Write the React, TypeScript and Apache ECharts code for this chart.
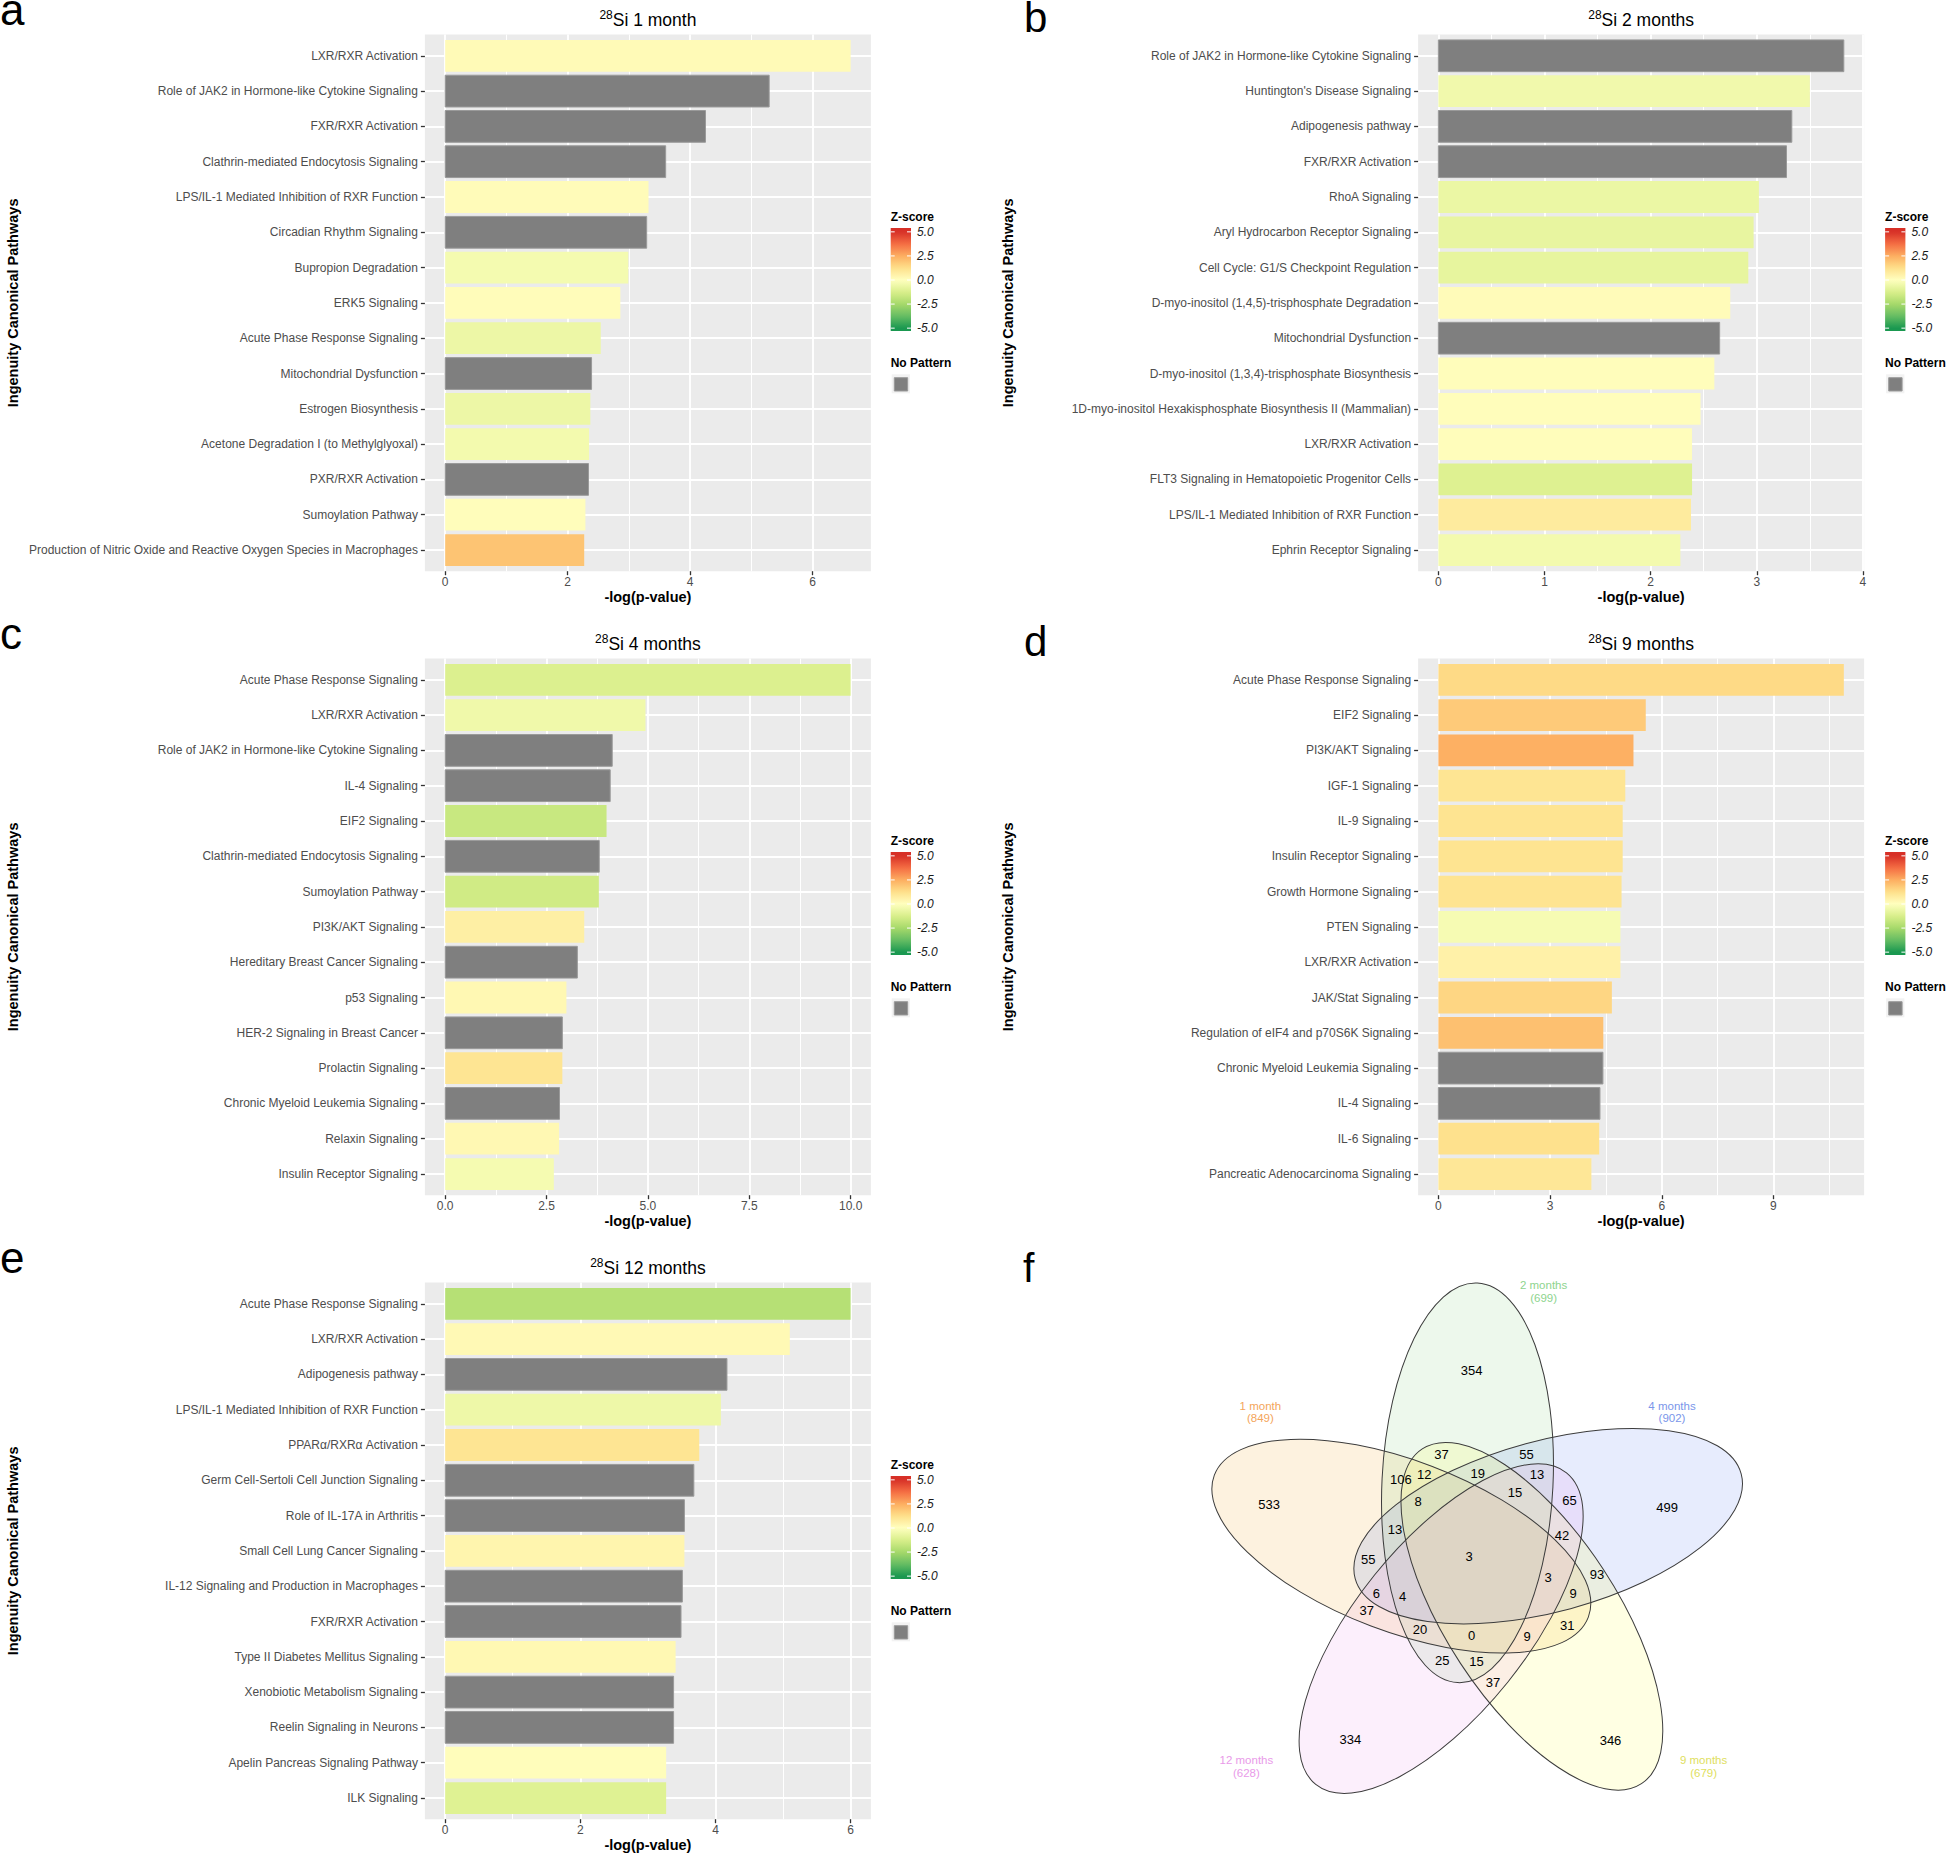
import React, { useEffect, useRef } from 'react';
import * as echarts from 'echarts';

const FONT = "'Liberation Sans', Arial, Helvetica, sans-serif";

// ---------------- DATA ----------------
// a: 28Si 1 month
const namesA = [
  'LXR/RXR Activation',
  'Role of JAK2 in Hormone-like Cytokine Signaling',
  'FXR/RXR Activation',
  'Clathrin-mediated Endocytosis Signaling',
  'LPS/IL-1 Mediated Inhibition of RXR Function',
  'Circadian Rhythm Signaling',
  'Bupropion Degradation',
  'ERK5 Signaling',
  'Acute Phase Response Signaling',
  'Mitochondrial Dysfunction',
  'Estrogen Biosynthesis',
  'Acetone Degradation I (to Methylglyoxal)',
  'PXR/RXR Activation',
  'Sumoylation Pathway',
  'Production of Nitric Oxide and Reactive Oxygen Species in Macrophages',
];
const valuesA = [6.62, 5.29, 4.25, 3.6, 3.32, 3.29, 2.99, 2.86, 2.54, 2.39, 2.37, 2.35, 2.34, 2.29, 2.27];
const zA = [0.2, null, null, null, 0.15, null, -0.35, 0.12, -0.6, null, -0.6, -0.4, null, 0.1, 1.95];
const ticksA = [0, 2, 4, 6];
const tickLabelsA = ['0', '2', '4', '6'];
const minorA = [1, 3, 5];

// b: 28Si 2 months
const namesB = [
  'Role of JAK2 in Hormone-like Cytokine Signaling',
  "Huntington's Disease Signaling",
  'Adipogenesis pathway',
  'FXR/RXR Activation',
  'RhoA Signaling',
  'Aryl Hydrocarbon Receptor Signaling',
  'Cell Cycle: G1/S Checkpoint Regulation',
  'D-myo-inositol (1,4,5)-trisphosphate Degradation',
  'Mitochondrial Dysfunction',
  'D-myo-inositol (1,3,4)-trisphosphate Biosynthesis',
  '1D-myo-inositol Hexakisphosphate Biosynthesis II (Mammalian)',
  'LXR/RXR Activation',
  'FLT3 Signaling in Hematopoietic Progenitor Cells',
  'LPS/IL-1 Mediated Inhibition of RXR Function',
  'Ephrin Receptor Signaling',
];
const valuesB = [3.82, 3.5, 3.33, 3.28, 3.02, 2.97, 2.92, 2.75, 2.65, 2.6, 2.47, 2.39, 2.39, 2.38, 2.28];
const zB = [null, -0.45, null, null, -0.65, -0.75, -0.8, 0.15, null, 0.1, 0.1, 0.1, -1.1, 0.8, -0.4];
const ticksB = [0, 1, 2, 3, 4];
const tickLabelsB = ['0', '1', '2', '3', '4'];
const minorB = [0.5, 1.5, 2.5, 3.5];

// c: 28Si 4 months
const namesC = [
  'Acute Phase Response Signaling',
  'LXR/RXR Activation',
  'Role of JAK2 in Hormone-like Cytokine Signaling',
  'IL-4 Signaling',
  'EIF2 Signaling',
  'Clathrin-mediated Endocytosis Signaling',
  'Sumoylation Pathway',
  'PI3K/AKT Signaling',
  'Hereditary Breast Cancer Signaling',
  'p53 Signaling',
  'HER-2 Signaling in Breast Cancer',
  'Prolactin Signaling',
  'Chronic Myeloid Leukemia Signaling',
  'Relaxin Signaling',
  'Insulin Receptor Signaling',
];
const valuesC = [10.0, 4.94, 4.12, 4.07, 3.98, 3.8, 3.79, 3.43, 3.26, 2.99, 2.89, 2.89, 2.82, 2.81, 2.68];
const zC = [-1.15, -0.5, null, null, -1.67, null, -1.47, 0.65, null, 0.28, null, 1.05, null, 0.28, -0.33];
const ticksC = [0, 2.5, 5, 7.5, 10];
const tickLabelsC = ['0.0', '2.5', '5.0', '7.5', '10.0'];
const minorC = [1.25, 3.75, 6.25, 8.75];

// d: 28Si 9 months
const namesD = [
  'Acute Phase Response Signaling',
  'EIF2 Signaling',
  'PI3K/AKT Signaling',
  'IGF-1 Signaling',
  'IL-9 Signaling',
  'Insulin Receptor Signaling',
  'Growth Hormone Signaling',
  'PTEN Signaling',
  'LXR/RXR Activation',
  'JAK/Stat Signaling',
  'Regulation of eIF4 and p70S6K Signaling',
  'Chronic Myeloid Leukemia Signaling',
  'IL-4 Signaling',
  'IL-6 Signaling',
  'Pancreatic Adenocarcinoma Signaling',
];
const valuesD = [10.89, 5.57, 5.24, 5.02, 4.95, 4.95, 4.92, 4.89, 4.89, 4.66, 4.43, 4.42, 4.34, 4.32, 4.11];
const zD = [1.4, 1.8, 2.45, 1.05, 1.1, 1.1, 1.1, -0.3, 0.55, 1.5, 2.05, null, null, 1.2, 0.95];
const ticksD = [0, 3, 6, 9];
const tickLabelsD = ['0', '3', '6', '9'];
const minorD = [1.5, 4.5, 7.5, 10.5];

// e: 28Si 12 months
const namesE = [
  'Acute Phase Response Signaling',
  'LXR/RXR Activation',
  'Adipogenesis pathway',
  'LPS/IL-1 Mediated Inhibition of RXR Function',
  'PPARα/RXRα Activation',
  'Germ Cell-Sertoli Cell Junction Signaling',
  'Role of IL-17A in Arthritis',
  'Small Cell Lung Cancer Signaling',
  'IL-12 Signaling and Production in Macrophages',
  'FXR/RXR Activation',
  'Type II Diabetes Mellitus Signaling',
  'Xenobiotic Metabolism Signaling',
  'Reelin Signaling in Neurons',
  'Apelin Pancreas Signaling Pathway',
  'ILK Signaling',
];
const valuesE = [6.0, 5.1, 4.17, 4.08, 3.76, 3.68, 3.54, 3.54, 3.51, 3.49, 3.41, 3.38, 3.38, 3.27, 3.27];
const zE = [-2.1, 0.25, null, -0.55, 1.05, null, null, 0.4, null, null, 0.3, null, null, 0.1, -1.05];
const ticksE = [0, 2, 4, 6];
const tickLabelsE = ['0', '2', '4', '6'];
const minorE = [1, 3, 5];

const legendBreaks = [5, 2.5, 0, -2.5, -5];
const legendBreakLabels = ['5.0', '2.5', '0.0', '-2.5', '-5.0'];

// f: Venn diagram
const vennSets = ['1 month', '2 months', '4 months', '9 months', '12 months'];
const vennSetSizes = [849, 699, 902, 679, 628];
const vennCounts = [533, 354, 499, 346, 334, 37, 55, 106, 12, 19, 13, 15, 8, 65, 13, 42, 55, 3, 93, 3, 6, 4, 9, 37, 20, 0, 9, 31, 25, 15, 37];

// ---------------- LAYOUT / STYLE ----------------
const COL_LEFT = [424.9, 1418.1];
const PANEL_W = 446;
const ROW_TOP = [34.6, 658.6, 1282.6];
const PANEL_H = 536.6;
const LEGEND_X = [890.7, 1885.1];
const YTITLE_X = [12.6, 1007.5];
const LETTER_X = [0, 1024];
const LETTER_SIZE = [44, 42];
const LETTER_MID_Y = [9.6, 17];

const vennCountPos: [number, number][] = [
  [1269.2, 1504.3], [1471.6, 1370], [1667.2, 1507], [1610.5, 1740.7], [1350.3, 1739.3],
  [1441.4, 1454.3], [1526.4, 1454.3], [1400.8, 1479.3], [1424.2, 1474.3], [1477.7, 1473.3],
  [1537, 1474.3], [1514.9, 1492.3], [1418, 1501], [1569.6, 1500], [1395, 1529.3],
  [1562, 1535.3], [1368.3, 1559], [1469, 1556.7], [1597.1, 1574], [1548.2, 1577.2],
  [1376.3, 1593.3], [1402.7, 1596], [1573, 1593.3], [1366.8, 1610.7], [1420, 1629],
  [1471.6, 1635], [1527.1, 1636.7], [1567.3, 1625.7], [1442.2, 1660.7], [1476.6, 1661.7],
  [1493, 1682.3],
];
const vennLabelPos: [number, number][] = [
  [1260.4, 1412], [1543.6, 1291.5], [1672, 1412], [1703.6, 1766.3], [1246.4, 1766.3],
];
const vennFill = ['#F2A82A', '#87D080', '#5F80F2', '#FFFF45', '#EB94EB'];
const vennLabelColor = ['#F4A55A', '#8ED48E', '#7A96EA', '#E0E060', '#E99AE9'];
const vennStep = [-1, 0, 1, 2, 3];
const VC = [1478, 1560];
const VG = [1467.5, 1482.8];
const VA = 200;
const VB = 85.5;
const VANG = -87.2;

const PAL = ['#1A9850', '#66BD63', '#A6D96A', '#D9EF8B', '#FFFFBF', '#FEE08B', '#FDAE61', '#F46D43', '#D73027'];
const GRAY = '#7F7F7F';

function hex2rgb(h: string): number[] {
  return [parseInt(h.slice(1, 3), 16), parseInt(h.slice(3, 5), 16), parseInt(h.slice(5, 7), 16)];
}
function zColor(z: number | null): string {
  if (z === null || z === undefined) return GRAY;
  const zz = Math.max(-5, Math.min(5, z));
  const t = (zz + 5) / 1.25;
  const i = Math.min(7, Math.floor(t));
  const f = t - i;
  const a = hex2rgb(PAL[i]);
  const b = hex2rgb(PAL[i + 1]);
  const c = a.map((v, k) => Math.round(v + (b[k] - v) * f));
  return `rgb(${c[0]},${c[1]},${c[2]})`;
}

const PANELS = [
  { letter: 'a', title: 'Si 1 month', names: namesA, values: valuesA, z: zA, ticks: ticksA, tickLabels: tickLabelsA, minor: minorA, col: 0, row: 0 },
  { letter: 'b', title: 'Si 2 months', names: namesB, values: valuesB, z: zB, ticks: ticksB, tickLabels: tickLabelsB, minor: minorB, col: 1, row: 0 },
  { letter: 'c', title: 'Si 4 months', names: namesC, values: valuesC, z: zC, ticks: ticksC, tickLabels: tickLabelsC, minor: minorC, col: 0, row: 1 },
  { letter: 'd', title: 'Si 9 months', names: namesD, values: valuesD, z: zD, ticks: ticksD, tickLabels: tickLabelsD, minor: minorD, col: 1, row: 1 },
  { letter: 'e', title: 'Si 12 months', names: namesE, values: valuesE, z: zE, ticks: ticksE, tickLabels: tickLabelsE, minor: minorE, col: 0, row: 2 },
];

function buildOption() {
  const grids: any[] = [];
  const xAxes: any[] = [];
  const yAxes: any[] = [];
  const series: any[] = [];
  const elements: any[] = [];

  PANELS.forEach((p, i) => {
    const M = Math.max(...p.values);
    const left = COL_LEFT[p.col];
    const top = ROW_TOP[p.row];
    const oy = top - ROW_TOP[0];
    const positions = p.names.map((_, k) => k + 1);
    grids.push({
      left, top, width: PANEL_W, height: PANEL_H,
      show: true, backgroundColor: '#EBEBEB', borderWidth: 0,
      containLabel: false, outerBoundsMode: 'none',
    });
    xAxes.push({
      gridIndex: i, type: 'value', min: -0.05 * M, max: 1.05 * M, position: 'bottom',
      axisLine: { show: false, onZero: false },
      axisTick: { show: true, length: 4, customValues: p.ticks, lineStyle: { color: '#333333', width: 1.3 } },
      axisLabel: {
        customValues: p.ticks, margin: 5, fontSize: 12, color: '#4D4D4D', fontFamily: FONT,
        formatter: (v: number) => p.tickLabels[p.ticks.findIndex((t) => Math.abs(t - v) < 1e-6)] ?? '',
      },
      splitLine: { show: true, lineStyle: { color: '#FFFFFF', width: 1.9 } },
    });
    xAxes.push({
      gridIndex: i, type: 'value', min: -0.05 * M, max: 1.05 * M, position: 'top',
      axisLine: { show: false, onZero: false },
      axisTick: { show: false, customValues: p.minor },
      axisLabel: { show: false, customValues: p.minor },
      splitLine: { show: true, lineStyle: { color: '#FFFFFF', width: 1 } },
    });
    yAxes.push({
      gridIndex: i, type: 'value', min: 0.4, max: 15.6, inverse: true,
      axisLine: { show: false, onZero: false },
      axisTick: { show: true, length: 4, customValues: positions, lineStyle: { color: '#333333', width: 1.3 } },
      axisLabel: {
        customValues: positions, margin: 7, fontSize: 12, color: '#4D4D4D', fontFamily: FONT,
        formatter: (v: number) => p.names[Math.round(v) - 1] ?? '',
      },
      splitLine: { show: true, lineStyle: { color: '#FFFFFF', width: 1.9 } },
    });
    const colors = p.z.map((z) => zColor(z));
    series.push({
      type: 'custom', coordinateSystem: 'cartesian2d', xAxisIndex: 2 * i, yAxisIndex: i,
      silent: true, encode: { x: 0, y: 1 },
      data: p.values.map((v, k) => [v, k + 1]),
      renderItem: (params: any, api: any) => {
        const v = api.value(0);
        const pos = api.value(1);
        const a = api.coord([0, pos - 0.45]);
        const b = api.coord([v, pos + 0.45]);
        const isGray = p.z[params.dataIndex] === null;
        return {
          type: 'rect',
          shape: { x: a[0], y: Math.min(a[1], b[1]), width: b[0] - a[0], height: Math.abs(b[1] - a[1]) },
          style: isGray
            ? { fill: colors[params.dataIndex], stroke: '#9A9A9A', lineWidth: 1 }
            : { fill: colors[params.dataIndex] },
        };
      },
    });

    // title with superscript
    elements.push({
      type: 'text', x: left + PANEL_W / 2, y: 20 + oy,
      style: {
        text: `{s|28}{m|${p.title}}`, align: 'center', verticalAlign: 'middle',
        rich: {
          s: { fontSize: 12, fontFamily: FONT, fill: '#000', padding: [0, 0, 11, 0] },
          m: { fontSize: 17.5, fontFamily: FONT, fill: '#000' },
        },
      },
    });
    // panel letter
    elements.push({
      type: 'text', x: LETTER_X[p.col], y: LETTER_MID_Y[p.col] + oy,
      style: { text: p.letter, fontSize: LETTER_SIZE[p.col], fontFamily: FONT, fill: '#000', align: 'left', verticalAlign: 'middle' },
    });
    // axis titles
    elements.push({
      type: 'text', x: left + PANEL_W / 2, y: top + 562.7,
      style: { text: '-log(p-value)', fontSize: 14.5, fontWeight: 'bold', fontFamily: FONT, fill: '#000', align: 'center', verticalAlign: 'middle' },
    });
    elements.push({
      type: 'text', x: YTITLE_X[p.col], y: top + PANEL_H / 2, rotation: Math.PI / 2,
      style: { text: 'Ingenuity Canonical Pathways', fontSize: 14.5, fontWeight: 'bold', fontFamily: FONT, fill: '#000', align: 'center', verticalAlign: 'middle' },
    });

    // legend
    const lx = LEGEND_X[p.col];
    const zy = (z: number) => 280 + oy - z * 9.63;
    elements.push({
      type: 'text', x: lx, y: 217 + oy,
      style: { text: 'Z-score', fontSize: 12, fontWeight: 'bold', fontFamily: FONT, fill: '#000', align: 'left', verticalAlign: 'middle' },
    });
    const stops: any[] = [];
    for (let s = 0; s <= 40; s++) {
      const zz = 5.4 - (s / 40) * 10.7;
      stops.push({ offset: s / 40, color: zColor(zz) });
    }
    elements.push({
      type: 'rect', shape: { x: lx, y: 228 + oy, width: 20.3, height: 103 },
      style: { fill: new echarts.graphic.LinearGradient(0, 0, 0, 1, stops) },
    });
    legendBreaks.forEach((b, k) => {
      const y = zy(b);
      elements.push({ type: 'line', shape: { x1: lx, y1: y, x2: lx + 4, y2: y }, style: { stroke: '#FFFFFF', lineWidth: 1 } });
      elements.push({ type: 'line', shape: { x1: lx + 16.3, y1: y, x2: lx + 20.3, y2: y }, style: { stroke: '#FFFFFF', lineWidth: 1 } });
      elements.push({
        type: 'text', x: lx + 26.3, y,
        style: { text: legendBreakLabels[k], fontSize: 12, fontStyle: 'italic', fontFamily: FONT, fill: '#1A1A1A', align: 'left', verticalAlign: 'middle' },
      });
    });
    elements.push({
      type: 'text', x: lx, y: 363 + oy,
      style: { text: 'No Pattern', fontSize: 12, fontWeight: 'bold', fontFamily: FONT, fill: '#000', align: 'left', verticalAlign: 'middle' },
    });
    elements.push({ type: 'rect', shape: { x: lx + 1, y: 374.3 + oy, width: 18.3, height: 19 }, style: { fill: '#F2F2F2' } });
    elements.push({ type: 'rect', shape: { x: lx + 3.6, y: 377.7 + oy, width: 13.4, height: 13.3 }, style: { fill: GRAY, stroke: '#9A9A9A', lineWidth: 1 } });
  });

  // ---------------- Venn (f) ----------------
  elements.push({
    type: 'text', x: 1023, y: 1267.6,
    style: { text: 'f', fontSize: 41, fontFamily: FONT, fill: '#000', align: 'left', verticalAlign: 'middle' },
  });
  const geo = vennStep.map((s) => {
    const a = (s * 72 * Math.PI) / 180;
    const dx = VG[0] - VC[0];
    const dy = VG[1] - VC[1];
    const cx = VC[0] + dx * Math.cos(a) - dy * Math.sin(a);
    const cy = VC[1] + dx * Math.sin(a) + dy * Math.cos(a);
    const ang = ((VANG + s * 72) * Math.PI) / 180;
    return { cx, cy, rot: -ang };
  });
  geo.forEach((g, k) => {
    const c = hex2rgb(vennFill[k]);
    elements.push({
      type: 'ellipse', x: g.cx, y: g.cy, rotation: g.rot,
      shape: { cx: 0, cy: 0, rx: VA, ry: VB },
      style: { fill: `rgba(${c[0]},${c[1]},${c[2]},0.15)` },
    });
  });
  geo.forEach((g) => {
    elements.push({
      type: 'ellipse', x: g.cx, y: g.cy, rotation: g.rot,
      shape: { cx: 0, cy: 0, rx: VA, ry: VB },
      style: { fill: 'none', stroke: '#3C3C3C', lineWidth: 1 },
    });
  });
  vennCounts.forEach((n, k) => {
    elements.push({
      type: 'text', x: vennCountPos[k][0], y: vennCountPos[k][1],
      style: { text: String(n), fontSize: 13, fontFamily: FONT, fill: '#000', align: 'center', verticalAlign: 'middle' },
    });
  });
  vennSets.forEach((name, k) => {
    elements.push({
      type: 'text', x: vennLabelPos[k][0], y: vennLabelPos[k][1],
      style: {
        text: `${name}\n(${vennSetSizes[k]})`, fontSize: 11.5, lineHeight: 12.7, fontFamily: FONT,
        fill: vennLabelColor[k], align: 'center', verticalAlign: 'middle',
      },
    });
  });

  return {
    animation: false,
    backgroundColor: '#FFFFFF',
    textStyle: { fontFamily: FONT },
    grid: grids,
    xAxis: xAxes,
    yAxis: yAxes,
    series,
    graphic: { elements },
  };
}

export default function App() {
  const ref = useRef<HTMLDivElement>(null);
  useEffect(() => {
    if (!ref.current) return;
    const chart = echarts.init(ref.current, undefined, { renderer: 'svg', width: 1946, height: 1854 });
    chart.setOption(buildOption() as any);
    return () => chart.dispose();
  }, []);
  return (
    <div
      ref={ref}
      style={{ position: 'fixed', left: 0, top: 0, width: 1946, height: 1854, background: '#FFFFFF' }}
    />
  );
}
